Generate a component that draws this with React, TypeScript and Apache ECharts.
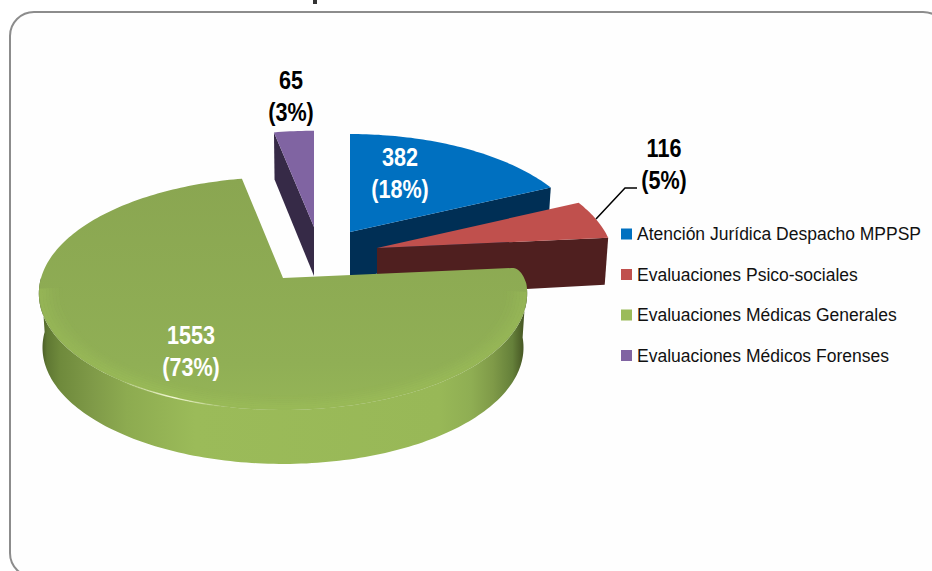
import React, { useEffect, useRef } from "react";
import * as echarts from "echarts";

const categories = [
  "Atención Jurídica Despacho MPPSP",
  "Evaluaciones Psico-sociales",
  "Evaluaciones Médicas Generales",
  "Evaluaciones Médicos Forenses",
];
const values = [382, 116, 1553, 65];
const percentLabels = ["(18%)", "(5%)", "(73%)", "(3%)"];
const legendColors = ["#0070c0", "#c0504d", "#9bbb59", "#8064a2"];

const total = values.reduce((a, b) => a + b, 0);
const K = 0.133;
const FONT = '"Liberation Sans", Arial, sans-serif';

type Geo = {
  ax: number; ay: number; rx: number; ry: number; h: number; z: number;
  label: [number, number]; labelColor: string; wall: string; top: string;
};
const geos: Geo[] = [
  { ax: 350, ay: 232, rx: 234, ry: 111, h: 46, z: 2, label: [400, 173], labelColor: "#fff", wall: "#002f55", top: "#0070c0" },
  { ax: 377, ay: 248, rx: 235, ry: 113, h: 47, z: 3, label: [664, 164], labelColor: "#000", wall: "#4f1f1f", top: "#c0504d" },
  { ax: 283, ay: 278, rx: 242, ry: 114.4, h: 54, z: 4, label: [191, 351], labelColor: "#fff", wall: "", top: "" },
  { ax: 314, ay: 227, rx: 236, ry: 109, h: 47, z: 1, label: [291, 96], labelColor: "#000", wall: "#362a47", top: "#8064a2" },
];

function pt(g: Geo, t: number, h = 0, shrink = 1, radius = 1): number[] {
  const u = Math.cos(t);
  const v = Math.sin(t);
  const s = 1 / (1 - K * v * radius);
  return [g.ax + g.rx * u * s * shrink * radius, g.ay + h + g.ry * v * s * radius];
}
function arc(g: Geo, a: number, b: number, h = 0, shrink = 1, radius = 1): number[][] {
  const n = Math.max(2, Math.ceil(Math.abs(b - a) / 0.02));
  const out: number[][] = [];
  for (let i = 0; i <= n; i++) out.push(pt(g, a + ((b - a) * i) / n, h, shrink, radius));
  return out;
}
function roundCorner(p0: number[], c: number[], p1: number[]): number[][] {
  const out: number[][] = [];
  for (let i = 0; i <= 12; i++) {
    const q = i / 12;
    out.push([
      (1 - q) * (1 - q) * p0[0] + 2 * q * (1 - q) * c[0] + q * q * p1[0],
      (1 - q) * (1 - q) * p0[1] + 2 * q * (1 - q) * c[1] + q * q * p1[1],
    ]);
  }
  return out;
}

function sliceAngles(i: number): [number, number] {
  let before = 0;
  for (let j = 0; j < i; j++) before += values[j];
  const a = -Math.PI / 2 + (before / total) * 2 * Math.PI;
  return [a, a + (values[i] / total) * 2 * Math.PI];
}

const rimBands = [
  [0.99, 0.55],
  [0.977, 0.45],
  [0.964, 0.36],
  [0.951, 0.27],
  [0.938, 0.19],
  [0.925, 0.12],
  [0.912, 0.06],
];

function renderSlice(i: number) {
  return (_p: any, api: any) => {
    const value = api.value(0);
    const g = geos[i];
    const [a, b] = sliceAngles(i);
    const apex = [g.ax, g.ay];
    const children: any[] = [];
    if (i === 2) {
      const wallStart = a + 0.14;
      const upper = arc(g, wallStart, Math.PI);
      const lower = arc(g, Math.PI, wallStart, g.h, 0.985);
      children.push({
        type: "polygon",
        shape: { points: upper.concat(lower) },
        style: {
          fill: new echarts.graphic.LinearGradient(0, 0, 1, 0, [
            { offset: 0, color: "#3e4c20" },
            { offset: 0.017, color: "#5f7833" },
            { offset: 0.044, color: "#6f8a3c" },
            { offset: 0.11, color: "#7f9a48" },
            { offset: 0.18, color: "#8dab50" },
            { offset: 0.32, color: "#9bbb59" },
            { offset: 0.82, color: "#98b857" },
            { offset: 0.885, color: "#8fae53" },
            { offset: 0.93, color: "#7f9a48" },
            { offset: 0.97, color: "#65803a" },
            { offset: 1, color: "#3d4a1d" },
          ]),
        },
      });
      const corner = roundCorner(pt(g, a, 0, 1, 0.96), pt(g, a), pt(g, wallStart));
      children.push({
        type: "polygon",
        shape: { points: [apex].concat(corner, arc(g, wallStart, b)) },
        style: {
          fill: new echarts.graphic.LinearGradient(0, 0, 0, 1, [
            { offset: 0, color: "#8aa651" },
            { offset: 0.8, color: "#90af55" },
            { offset: 1, color: "#95b557" },
          ]),
        },
      });
      rimBands.forEach(([radius, alpha]) => {
        children.push({
          type: "polyline",
          shape: { points: arc(g, 0.12, 3.05, 0, 1, radius) },
          style: { fill: "none", lineWidth: 3.2, stroke: `rgba(155,188,88,${alpha})` },
        });
      });
      children.push({
        type: "polyline",
        shape: { points: arc(g, 1.78, 2.22) },
        style: {
          fill: "none",
          lineWidth: 1.4,
          stroke: new echarts.graphic.LinearGradient(0, 0, 1, 0, [
            { offset: 0, color: "rgba(245,250,215,0)" },
            { offset: 0.5, color: "rgba(245,250,215,0.95)" },
            { offset: 1, color: "rgba(245,250,215,0)" },
          ]),
        },
      });
    } else {
      const edge = i === 3 ? a : b;
      const outer = pt(g, edge);
      const outerLow = pt(g, edge, g.h, 0.985);
      children.push({
        type: "polygon",
        shape: { points: [apex, outer, outerLow, [g.ax, g.ay + g.h + 2]] },
        style: { fill: g.wall },
      });
      children.push({
        type: "polygon",
        shape: { points: [apex].concat(arc(g, a, b)) },
        style: { fill: g.top },
      });
    }
    if (i === 1) {
      children.push({
        type: "polyline",
        shape: { points: [[596, 219], [625, 188], [637, 188]] },
        style: { fill: "none", stroke: "#000", lineWidth: 1.5 },
      });
    }
    children.push({
      type: "text",
      x: g.label[0],
      y: g.label[1],
      scaleX: 0.83,
      style: {
        text: `${value}\n${percentLabels[i]}`,
        fill: g.labelColor,
        font: `bold 26px ${FONT}`,
        lineHeight: 32,
        align: "center",
        verticalAlign: "middle",
      },
    });
    return { type: "group", children };
  };
}

export default function App() {
  const ref = useRef<HTMLDivElement>(null);
  useEffect(() => {
    document.body.style.margin = "0";
    const chart = echarts.init(ref.current!, undefined, { renderer: "svg" });
    chart.setOption({
      animation: false,
      backgroundColor: "#ffffff",
      graphic: [
        {
          type: "rect",
          z: -1,
          shape: { x: 10, y: 12, width: 937, height: 565, r: 24 },
          style: { fill: "#fefefe", stroke: "#8c8c8c", lineWidth: 2 },
        },
        {
          type: "rect",
          z: -1,
          shape: { x: 313, y: 0, width: 4, height: 4 },
          style: { fill: "#333333" },
        },
      ],
      legend: {
        orient: "vertical",
        left: 621,
        top: 225,
        padding: 0,
        icon: "rect",
        itemWidth: 11,
        itemHeight: 11,
        itemGap: 22.5,
        data: categories,
        textStyle: { fontFamily: FONT, fontSize: 17.5, color: "#111" },
        selectedMode: false,
      },
      series: categories.map((name, i) => ({
        type: "custom",
        name,
        coordinateSystem: "none",
        z: geos[i].z,
        silent: true,
        itemStyle: { color: legendColors[i] },
        data: [[values[i]]],
        renderItem: renderSlice(i),
      })),
    });
    return () => chart.dispose();
  }, []);
  return <div ref={ref} style={{ width: 932, height: 571 }} />;
}
